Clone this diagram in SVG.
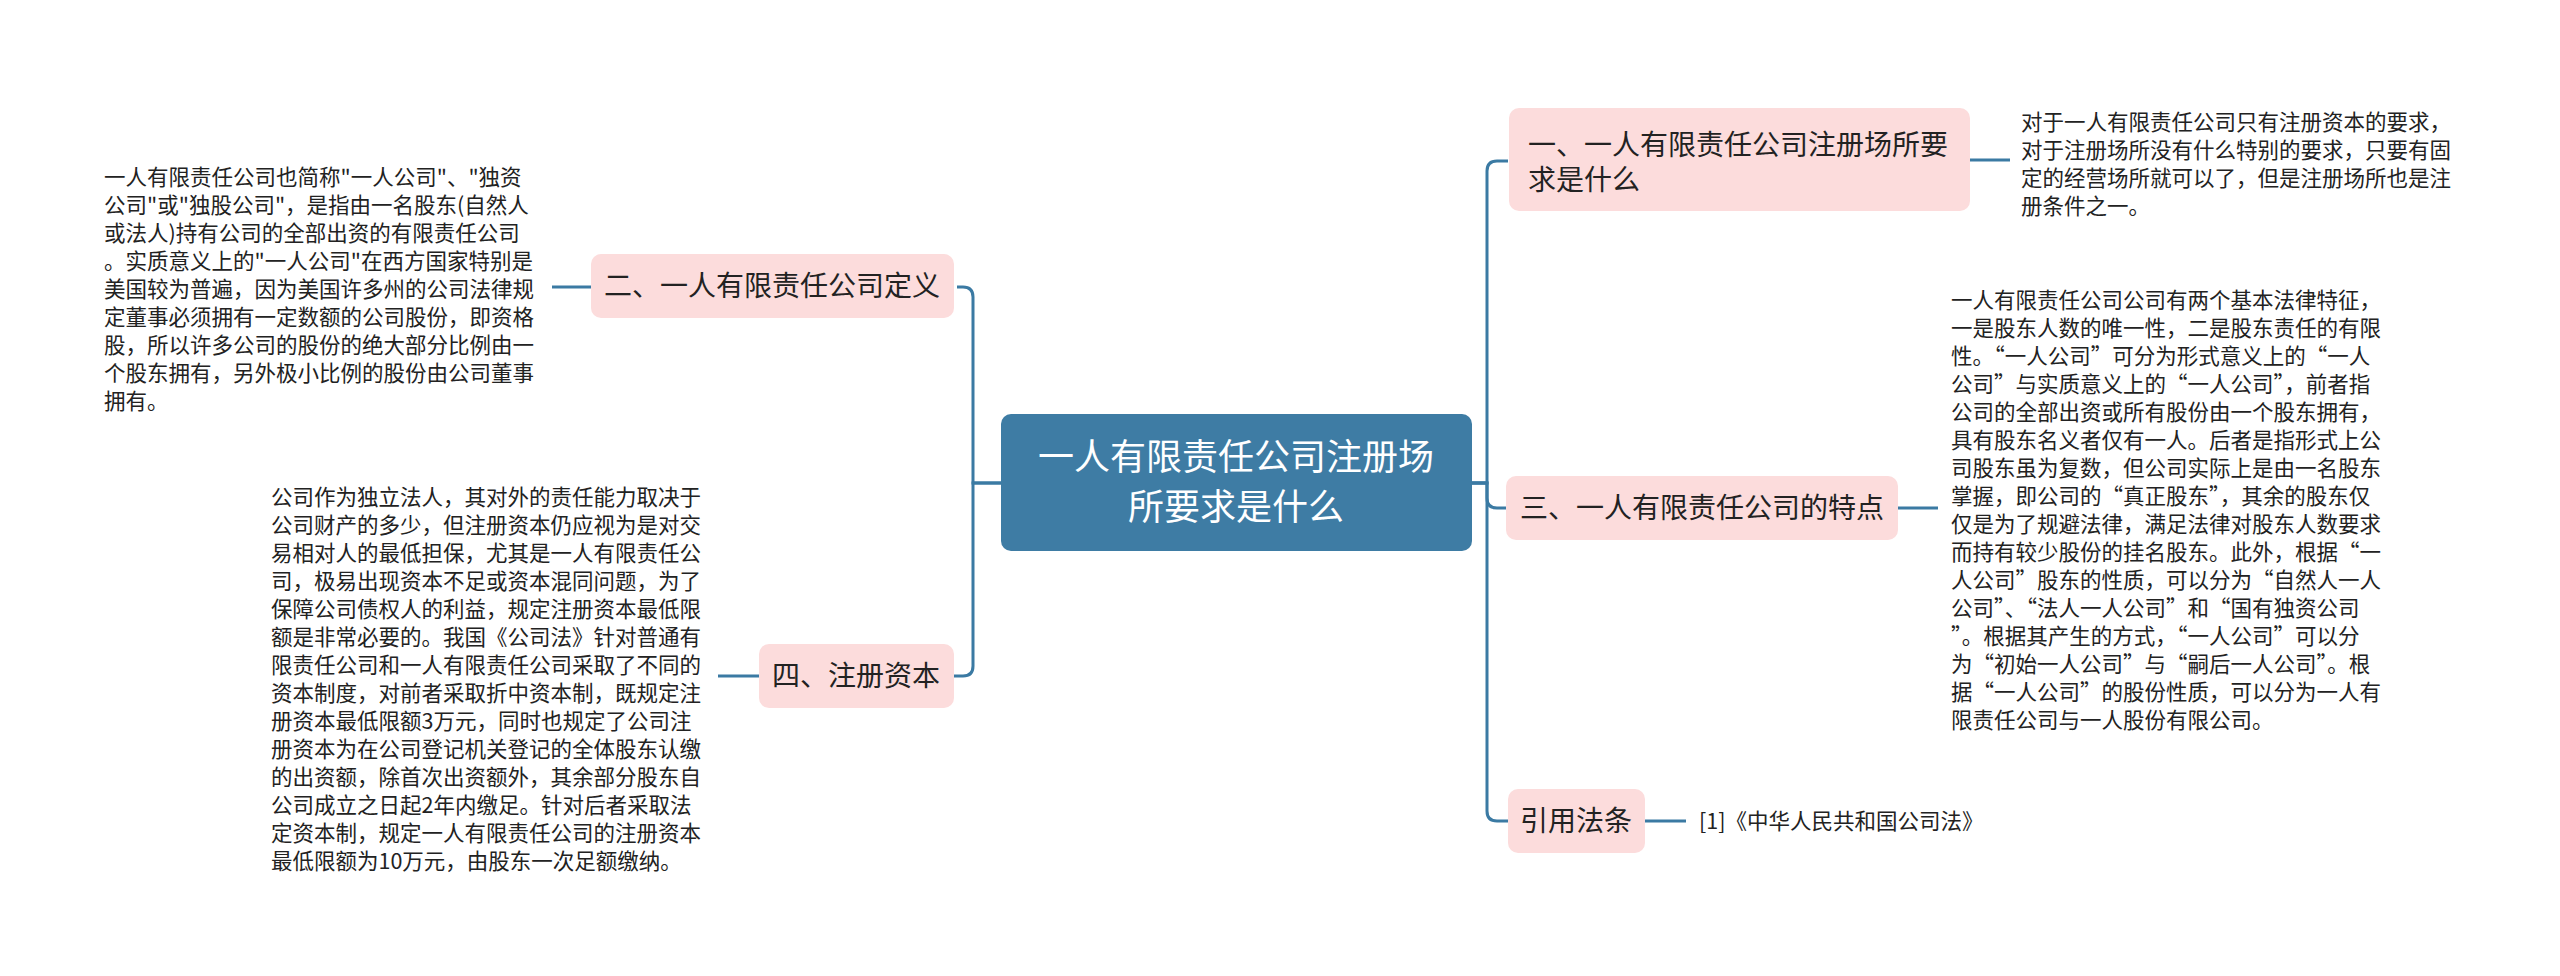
<svg xmlns="http://www.w3.org/2000/svg" width="2560" height="976" viewBox="0 0 2560 976">
<style>
.c{fill:none;stroke:#3b7aa3;stroke-width:3}
.n{fill:#fcdcdc}
.t{font-family:"Noto Sans CJK SC","Liberation Sans",sans-serif;fill:#222}
.nt{font-size:28px}
.b{font-size:21.5px}
</style>
<rect width="2560" height="976" fill="#fff"/>
<g id="connectors">
<path class="c" d="M1001,483 H973 V297 Q973,287 963,287 H957"/>
<path class="c" d="M1001,483 H973 V666 Q973,676 963,676 H954"/>
<path class="c" d="M1472,483 H1487 V171 Q1487,161 1497,161 H1508"/>
<path class="c" d="M1472,483 H1487 V498 Q1487,508 1497,508 H1506"/>
<path class="c" d="M1472,483 H1487 V811 Q1487,821 1497,821 H1508"/>
<path class="c" d="M594,287 H552"/>
<path class="c" d="M759,676 H718"/>
<path class="c" d="M1969,160 H2010"/>
<path class="c" d="M1898,508 H1938"/>
<path class="c" d="M1645,821 H1686"/>
</g>
<g id="root">
<rect x="1001" y="414" width="471" height="137" rx="10" fill="#3e7ca4"/>
<text class="t" x="1236" y="470" font-size="36" text-anchor="middle" style="fill:#fff">一人有限责任公司注册场</text>
<text class="t" x="1236" y="520" font-size="36" text-anchor="middle" style="fill:#fff">所要求是什么</text>
</g>
<g id="n1">
<rect class="n" x="1509" y="108" width="461" height="103" rx="10"/>
<text class="t nt" x="1528" y="155">一、一人有限责任公司注册场所要</text>
<text class="t nt" x="1528" y="190">求是什么</text>
</g>
<g id="n1text" class="t b">
<text x="2021" y="130">对于一人有限责任公司只有注册资本的要求，</text>
<text x="2021" y="158">对于注册场所没有什么特别的要求，只要有固</text>
<text x="2021" y="186">定的经营场所就可以了，但是注册场所也是注</text>
<text x="2021" y="214">册条件之一。</text>
</g>
<g id="n2">
<rect class="n" x="591" y="254" width="363" height="64" rx="10"/>
<text class="t nt" x="772" y="296" text-anchor="middle">二、一人有限责任公司定义</text>
</g>
<g id="n2text" class="t b">
<text x="104" y="185">一人有限责任公司也简称"一人公司"、"独资</text>
<text x="104" y="213">公司"或"独股公司"，是指由一名股东(自然人</text>
<text x="104" y="241">或法人)持有公司的全部出资的有限责任公司</text>
<text x="104" y="269">。实质意义上的"一人公司"在西方国家特别是</text>
<text x="104" y="297">美国较为普遍，因为美国许多州的公司法律规</text>
<text x="104" y="325">定董事必须拥有一定数额的公司股份，即资格</text>
<text x="104" y="353">股，所以许多公司的股份的绝大部分比例由一</text>
<text x="104" y="381">个股东拥有，另外极小比例的股份由公司董事</text>
<text x="104" y="409">拥有。</text>
</g>
<g id="n3">
<rect class="n" x="1506" y="476" width="392" height="64" rx="10"/>
<text class="t nt" x="1702" y="518" text-anchor="middle">三、一人有限责任公司的特点</text>
</g>
<g id="n3text" class="t b">
<text x="1951" y="308">一人有限责任公司公司有两个基本法律特征，</text>
<text x="1951" y="336">一是股东人数的唯一性，二是股东责任的有限</text>
<text x="1951" y="364">性。“一人公司”可分为形式意义上的“一人</text>
<text x="1951" y="392">公司”与实质意义上的“一人公司”，前者指</text>
<text x="1951" y="420">公司的全部出资或所有股份由一个股东拥有，</text>
<text x="1951" y="448">具有股东名义者仅有一人。后者是指形式上公</text>
<text x="1951" y="476">司股东虽为复数，但公司实际上是由一名股东</text>
<text x="1951" y="504">掌握，即公司的“真正股东”，其余的股东仅</text>
<text x="1951" y="532">仅是为了规避法律，满足法律对股东人数要求</text>
<text x="1951" y="560">而持有较少股份的挂名股东。此外，根据“一</text>
<text x="1951" y="588">人公司”股东的性质，可以分为“自然人一人</text>
<text x="1951" y="616">公司”、“法人一人公司”和“国有独资公司</text>
<text x="1951" y="644">”。根据其产生的方式，“一人公司”可以分</text>
<text x="1951" y="672">为“初始一人公司”与“嗣后一人公司”。根</text>
<text x="1951" y="700">据“一人公司”的股份性质，可以分为一人有</text>
<text x="1951" y="728">限责任公司与一人股份有限公司。</text>
</g>
<g id="n4">
<rect class="n" x="759" y="644" width="195" height="64" rx="10"/>
<text class="t nt" x="856" y="686" text-anchor="middle">四、注册资本</text>
</g>
<g id="n4text" class="t b">
<text x="271" y="505">公司作为独立法人，其对外的责任能力取决于</text>
<text x="271" y="533">公司财产的多少，但注册资本仍应视为是对交</text>
<text x="271" y="561">易相对人的最低担保，尤其是一人有限责任公</text>
<text x="271" y="589">司，极易出现资本不足或资本混同问题，为了</text>
<text x="271" y="617">保障公司债权人的利益，规定注册资本最低限</text>
<text x="271" y="645">额是非常必要的。我国《公司法》针对普通有</text>
<text x="271" y="673">限责任公司和一人有限责任公司采取了不同的</text>
<text x="271" y="701">资本制度，对前者采取折中资本制，既规定注</text>
<text x="271" y="729">册资本最低限额3万元，同时也规定了公司注</text>
<text x="271" y="757">册资本为在公司登记机关登记的全体股东认缴</text>
<text x="271" y="785">的出资额，除首次出资额外，其余部分股东自</text>
<text x="271" y="813">公司成立之日起2年内缴足。针对后者采取法</text>
<text x="271" y="841">定资本制，规定一人有限责任公司的注册资本</text>
<text x="271" y="869">最低限额为10万元，由股东一次足额缴纳。</text>
</g>
<g id="n5">
<rect class="n" x="1508" y="789" width="137" height="64" rx="10"/>
<text class="t nt" x="1576" y="831" text-anchor="middle">引用法条</text>
</g>
<g id="n5text" class="t b">
<text x="1699" y="829">[1]《中华人民共和国公司法》</text>
</g>
</svg>
